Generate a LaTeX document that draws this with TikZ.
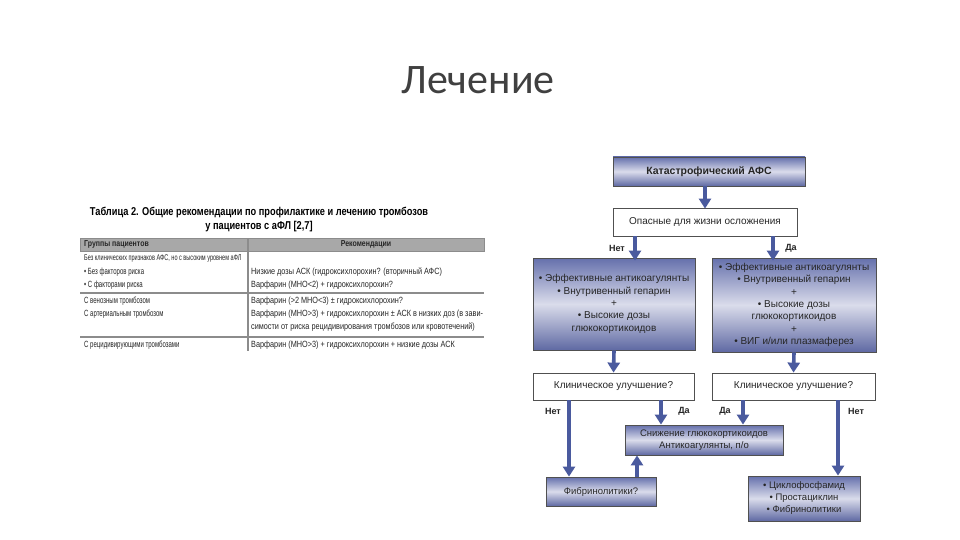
\documentclass[tikz,border=0pt]{standalone}
\usepackage{fontspec}
\setmainfont{Liberation Sans}
\newfontfamily\titlefont{Carlito}
\newfontfamily\narrowfont[FakeStretch=0.81]{Liberation Sans}
\newfontfamily\leftfont[FakeStretch=0.67]{Liberation Sans}
\usetikzlibrary{arrows.meta,calc}
\definecolor{arrowblue}{HTML}{4A5A9E}
\definecolor{boxtop}{HTML}{6570AC}
\definecolor{boxmid}{HTML}{DADCEB}
\definecolor{boxbot}{HTML}{5F69A3}
\definecolor{edgec}{HTML}{505050}
\definecolor{tgray}{HTML}{8C8C8C}
\definecolor{hgray}{HTML}{A8A8A8}
\tikzset{
  gbox/.style={draw=edgec, line width=0.8pt, top color=boxtop, bottom color=boxbot, middle color=boxmid,
    inner sep=0pt, align=center, text=black!85, font=\fontsize{10}{12.3}\selectfont},
  wbox/.style={draw=edgec, line width=0.8pt, fill=white, inner sep=0pt, align=center,
    text=black!85, font=\fontsize{10}{12.3}\selectfont},
  arr/.style={draw=arrowblue, line width=3.6pt, -{Triangle[width=12pt,length=10pt]}},
  yesno/.style={font=\bfseries\fontsize{9}{10}\selectfont, text=black!85, inner sep=0pt},
  ttitle/.style={font=\narrowfont\bfseries\fontsize{11.4}{12}\selectfont, inner sep=0pt},
  tcell/.style={font=\narrowfont\fontsize{9}{10}\selectfont, inner sep=0pt, anchor=west, text=black!85},
  lcell/.style={font=\leftfont\fontsize{9}{10}\selectfont, inner sep=0pt, anchor=west, text=black!85},
  thead/.style={font=\narrowfont\bfseries\fontsize{8.6}{10}\selectfont, inner sep=0pt, text=black!85},
  tline/.style={draw=tgray, line width=1.4pt}
}
\begin{document}
\begin{tikzpicture}[x=1pt,y=-1pt]
\path[use as bounding box, fill=white] (0,0) rectangle (960,540);
% title
\node[font=\titlefont\fontsize{42}{46}\selectfont, text=black!75, inner sep=0pt] (title) at (478,80) {Лечение};
% table
\node[ttitle] (tt1) at (259,213) {Таблица 2. Общие рекомендации по профилактике и лечению тромбозов};
\node[ttitle] (tt2) at (259,227) {у пациентов с аФЛ [2,7]};
\path[fill=hgray, draw=tgray, line width=0.8pt] (80,238) rectangle (484,251);
\node[thead, anchor=west] (h1) at (84,244.5) {Группы пациентов};
\node[thead] (h2) at (366,244.5) {Рекомендации};
\draw[tline] (248,238) -- (248,351);
\draw[tline] (80,293) -- (484,293);
\draw[tline] (80,337) -- (484,337);
\node[lcell, font=\leftfont\fontsize{8.3}{10}\selectfont] (c1) at (84,258) {Без клинических признаков АФС, но с высоким уровнем аФЛ};
\node[lcell] (c2) at (84,272) {• Без факторов риска};
\node[lcell] (c3) at (84,285) {• С факторами риска};
\node[lcell] (c4) at (84,301) {С венозным тромбозом};
\node[lcell] (c5) at (84,314) {С артериальным тромбозом};
\node[lcell] (c6) at (84,345) {С рецидивирующими тромбозами};
\node[tcell] (d2) at (251,272) {Низкие дозы АСК (гидроксихлорохин? (вторичный АФС)};
\node[tcell] (d3) at (251,285) {Варфарин (МНО<2) + гидроксихлорохин?};
\node[tcell] (d4) at (251,301) {Варфарин (>2 МНО<3) ± гидроксихлорохин?};
\node[tcell] (d5) at (251,314) {Варфарин (МНО>3) + гидроксихлорохин ± АСК в низких доз (в зави-};
\node[tcell] (d6) at (251,327) {симости от риска рецидивирования тромбозов или кровотечений)};
\node[tcell] (d7) at (251,345) {Варфарин (МНО>3) + гидроксихлорохин + низкие дозы АСК};
% flowchart
\node[gbox, minimum width=192pt, minimum height=29pt, font=\bfseries\fontsize{10.5}{12}\selectfont] (cat) at (709,171.5) {Катастрофический АФС};
\node[wbox, minimum width=184pt, minimum height=28pt] (opas) at (705,222) {Опасные для жизни осложнения};
\node[gbox, minimum width=162pt, minimum height=92pt] (l1) at (614,304) {• Эффективные антикоагулянты\\• Внутривенный гепарин\\+\\• Высокие дозы\\глюкокортикоидов};
\node[gbox, minimum width=164pt, minimum height=94pt] (r1) at (794,305) {• Эффективные антикоагулянты\\• Внутривенный гепарин\\+\\• Высокие дозы\\глюкокортикоидов\\+\\• ВИГ и/или плазмаферез};
\node[wbox, minimum width=161pt, minimum height=27pt] (lq) at (613.5,386.5) {Клиническое улучшение?};
\node[wbox, minimum width=163pt, minimum height=27pt] (rq) at (793.5,386.5) {Клиническое улучшение?};
\node[gbox, minimum width=158pt, minimum height=30pt, font=\fontsize{9.5}{11.5}\selectfont] (mid) at (704,440) {Снижение глюкокортикоидов\\Антикоагулянты, п/о};
\node[gbox, minimum width=110pt, minimum height=29pt, font=\fontsize{9.5}{11.5}\selectfont] (fib) at (601,491.5) {Фибринолитики?};
\node[gbox, minimum width=112pt, minimum height=45pt, font=\fontsize{9.5}{12}\selectfont] (cyc) at (804,498.5) {• Циклофосфамид\\• Простациклин\\• Фибринолитики};
% arrow columns
\coordinate (xa) at (705,0);
\coordinate (xb) at (635,0);
\coordinate (xc) at (773,0);
\coordinate (xd) at (569,0);
\coordinate (xe) at (661,0);
\coordinate (xf) at (743,0);
\coordinate (xg) at (838,0);
\coordinate (xh) at (637,0);
\draw[arr] (cat.south -| xa) -- ($(opas.north -| xa)+(0,1)$);
\draw[arr] (opas.south -| xb) -- ($(l1.north -| xb)+(0,3)$);
\draw[arr] (opas.south -| xc) -- ($(r1.north -| xc)+(0,3)$);
\draw[arr] (l1.south) -- (lq.north);
\draw[arr] (r1.south) -- (rq.north);
\draw[arr] (lq.south -| xd) -- (fib.north -| xd);
\draw[arr] (lq.south -| xe) -- (mid.north -| xe);
\draw[arr] (rq.south -| xf) -- (mid.north -| xf);
\draw[arr] (rq.south -| xg) -- (cyc.north -| xg);
\draw[arr] (fib.north -| xh) -- (mid.south -| xh);
% labels
\node[yesno] (n1) at (617,248) {Нет};
\node[yesno] (y1) at (791,248) {Да};
\node[yesno] (n2) at (553,411) {Нет};
\node[yesno] (y2) at (684,411) {Да};
\node[yesno] (y3) at (725,411) {Да};
\node[yesno] (n3) at (856,411) {Нет};
\end{tikzpicture}
\end{document}
